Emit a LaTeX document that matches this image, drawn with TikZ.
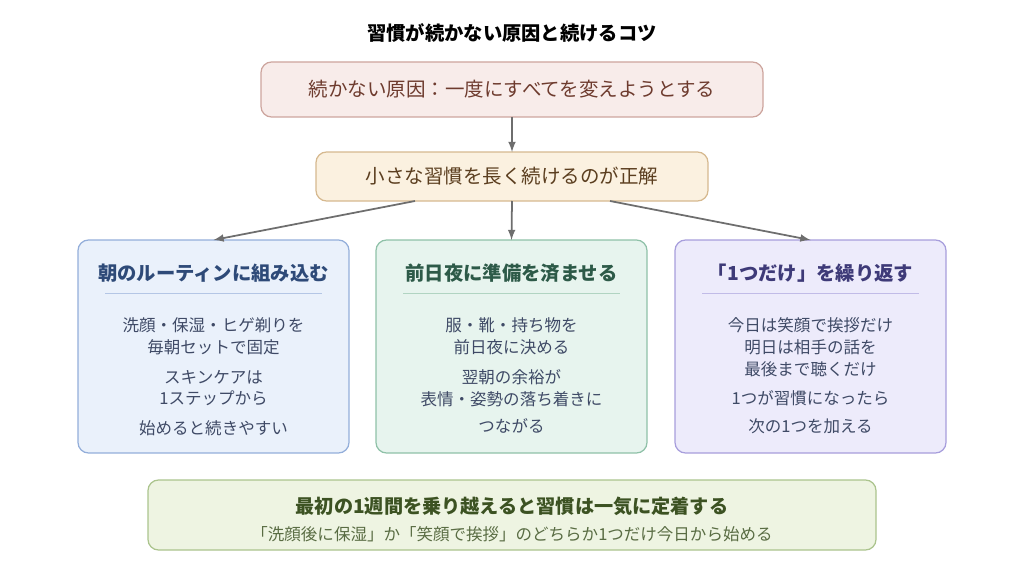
\documentclass[tikz,border=0pt]{standalone}
\usepackage{fontspec}
\setmainfont{Noto Sans CJK JP}
\definecolor{causefill}{HTML}{F8ECEA}\definecolor{causeline}{HTML}{CDA59E}\definecolor{causetext}{HTML}{6E3B2E}
\definecolor{keyfill}{HTML}{FBF1E0}\definecolor{keyline}{HTML}{D6B98F}\definecolor{keytext}{HTML}{5B3E1F}
\definecolor{bluefill}{HTML}{EAF1FB}\definecolor{blueline}{HTML}{93AEDA}\definecolor{bluetext}{HTML}{2E4A78}
\definecolor{greenfill}{HTML}{E7F4EE}\definecolor{greenline}{HTML}{8FC1A8}\definecolor{greentext}{HTML}{2D5A48}
\definecolor{purplefill}{HTML}{EDEBFB}\definecolor{purpleline}{HTML}{A79EDC}\definecolor{purpletext}{HTML}{3E3A78}
\definecolor{tipfill}{HTML}{EEF4E2}\definecolor{tipline}{HTML}{ABC48D}\definecolor{tiptext}{HTML}{3C5222}
\definecolor{bodytext}{HTML}{3F4A66}\definecolor{arrowc}{HTML}{6E6E6E}
\begin{document}
\begin{tikzpicture}[x=0.02cm,y=-0.02cm,
  box/.style={draw,rounded corners=6pt,line width=0.7pt},
  arr/.style={->,>=latex,arrowc,line width=1pt},
  head/.style={font=\fontsize{11}{13}\selectfont\bfseries},
  body/.style={font=\fontsize{9.4}{12.4}\selectfont,text=bodytext,align=center}]
\useasboundingbox (0,0) rectangle (1024,581);
\node[font=\fontsize{11}{13}\selectfont\bfseries] (title) at (512,33) {習慣が続かない原因と続けるコツ};
% top boxes
\draw[box,fill=causefill,draw=causeline] (261,62) rectangle (763,117);
\node[font=\fontsize{11.1}{13}\selectfont,text=causetext] (cause) at (512,89.5) {続かない原因：一度にすべてを変えようとする};
\coordinate (causeb) at (512,117);
\draw[box,fill=keyfill,draw=keyline] (316,152) rectangle (708,201);
\node[font=\fontsize{11.1}{13}\selectfont,text=keytext] (key) at (512,176.5) {小さな習慣を長く続けるのが正解};
\coordinate (keyt) at (512,152);
\coordinate (keyl) at (415,201);\coordinate (keym) at (512,201);\coordinate (keyr) at (610,201);
\draw[arr] (causeb) -- (keyt);
% three columns
\foreach \x/\c/\n in {78/blue/morning,376/green/night,675/purple/one}{
  \draw[box,fill=\c fill,draw=\c line] (\x,240) rectangle ++(271,213);
  \draw[\c line!70,line width=0.5pt] (\x+27,293) -- ++(217,0);
  \coordinate (\n) at (\x+135.5,240);
}
\draw[arr] (keyl) -- (morning);
\draw[arr] (keym) -- (night);
\draw[arr] (keyr) -- (one);
\node[head,text=bluetext] (mhead) at (213.5,273) {朝のルーティンに組み込む};
\node[body] (m1) at (213.5,336) {洗顔・保湿・ヒゲ剃りを\\毎朝セットで固定};
\node[body] (m2) at (213.5,388) {スキンケアは\\1ステップから};
\node[body] (m3) at (213.5,428) {始めると続きやすい};
\node[head,text=greentext] (nhead) at (511.5,273) {前日夜に準備を済ませる};
\node[body] (n1) at (511.5,336) {服・靴・持ち物を\\前日夜に決める};
\node[body] (n2) at (511.5,388) {翌朝の余裕が\\表情・姿勢の落ち着きに};
\node[body] (n3) at (511.5,426) {つながる};
\node[head,text=purpletext] (ohead) at (810.5,273) {「1つだけ」を繰り返す};
\node[body] (o1) at (810.5,347) {今日は笑顔で挨拶だけ\\明日は相手の話を\\最後まで聴くだけ};
\node[body] (o2) at (810.5,398) {1つが習慣になったら};
\node[body] (o3) at (810.5,426) {次の1つを加える};
% bottom
\draw[box,fill=tipfill,draw=tipline] (148,480) rectangle (876,550);
\node[head,font=\fontsize{10.9}{13}\selectfont\bfseries,text=tiptext] (tip) at (512,506) {最初の1週間を乗り越えると習慣は一気に定着する};
\node[font=\fontsize{9.4}{11}\selectfont,text=tiptext!85] (tipsub) at (512,534) {「洗顔後に保湿」か「笑顔で挨拶」のどちらか1つだけ今日から始める};
\end{tikzpicture}
\end{document}
